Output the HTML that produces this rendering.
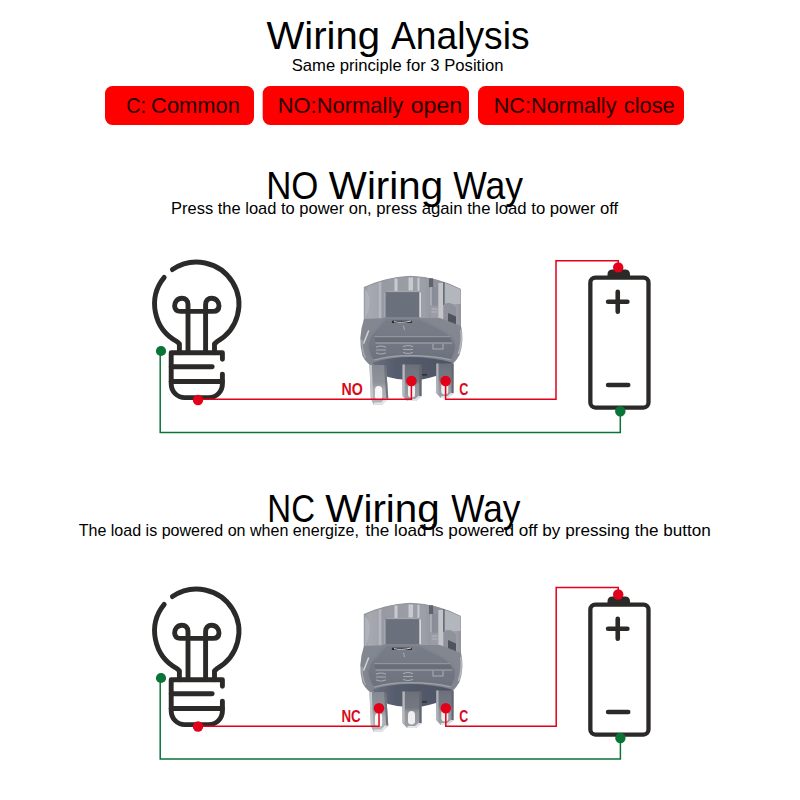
<!DOCTYPE html>
<html lang="en">
<head>
<meta charset="utf-8">
<title>Wiring Analysis</title>
<style>
html,body{margin:0;padding:0;background:#fff;}
body{width:800px;height:800px;overflow:hidden;position:relative;font-family:"Liberation Sans",sans-serif;}
svg{position:absolute;left:0;top:0;display:block;}
text{font-family:"Liberation Sans",sans-serif;}
.h1{font-size:38.5px;fill:#000;}
.sub{font-size:16.6px;fill:#000;}
.pill{font-size:22.2px;fill:#2a0000;}
.lab{font-size:15.6px;font-weight:bold;fill:#d80a1a;}
</style>
</head>
<body>
<svg width="800" height="800" viewBox="0 0 800 800">
<defs>
  <!-- light bulb icon -->
  <g id="bulb" fill="none" stroke="#2b2a29" stroke-width="4.9" stroke-linecap="round" stroke-linejoin="round">
    <path d="M172.4 269.6 A42.4 42.4 0 1 1 217.0 341.6 L214.5 343.8 V352.8"/>
    <path d="M164.2 277.4 A42.4 42.4 0 0 0 177.0 341.6 L179.4 343.8 V352.8"/>
    <path d="M188 352 V304.5 C188 300.5 185.3 298.2 182 298.2 C177.5 298.2 174.4 302 174.6 306 C174.8 309.5 177 311.4 180.5 311.4 H213.1 C216.6 311.4 218.8 309.5 219 306 C219.2 302 216.1 298.2 211.6 298.2 C208.3 298.2 205.6 300.5 205.6 304.5 V352"/>
    <path d="M222.4 359.3 V352.8 H171.2 V384 A13.6 13.6 0 0 0 184.8 397.6 H208.8 A13.6 13.6 0 0 0 222.4 384 V374.1"/>
    <path d="M171.2 366.7 H212.2"/>
    <path d="M171.2 381.5 H222.4"/>
  </g>
  <!-- battery icon -->
  <g id="battery">
    <path d="M607.5 277 V274.5 Q607.5 269.5 612.5 269.5 H625 Q630 269.5 630 274.5 V277 Z" fill="#2b2a29"/>
    <rect x="590.35" y="277.65" width="58.15" height="129.9" rx="5" ry="5" fill="#fff" stroke="#2b2a29" stroke-width="4.3"/>
    <path d="M608.1 301.75 H627.4 M617.75 291.8 V311.7" fill="none" stroke="#2b2a29" stroke-width="4.6" stroke-linecap="round"/>
    <path d="M608.1 385 H628.2" fill="none" stroke="#2b2a29" stroke-width="4.6" stroke-linecap="round"/>
  </g>

  <!-- push button switch (rear view) -->
  <linearGradient id="gCyl" x1="0" y1="0" x2="1" y2="0">
    <stop offset="0" stop-color="#969aa2"/>
    <stop offset="0.05" stop-color="#a6a9b0"/>
    <stop offset="0.15" stop-color="#a1a4ac"/>
    <stop offset="0.165" stop-color="#bdbfc5"/>
    <stop offset="0.19" stop-color="#979aa2"/>
    <stop offset="0.62" stop-color="#9c9fa7"/>
    <stop offset="0.75" stop-color="#8e9199"/>
    <stop offset="0.9" stop-color="#a4a7ae"/>
    <stop offset="1" stop-color="#92959d"/>
  </linearGradient>
  <linearGradient id="gDisk" x1="0" y1="0" x2="0" y2="1">
    <stop offset="0" stop-color="#787d88"/>
    <stop offset="0.5" stop-color="#747985"/>
    <stop offset="1" stop-color="#6c717d"/>
  </linearGradient>
  <linearGradient id="gLow" x1="0" y1="0" x2="1" y2="0">
    <stop offset="0" stop-color="#6a7080"/>
    <stop offset="0.3" stop-color="#555c6c"/>
    <stop offset="1" stop-color="#4e5464"/>
  </linearGradient>
  <linearGradient id="gPin" x1="0" y1="0" x2="0" y2="1">
    <stop offset="0" stop-color="#6c707a"/>
    <stop offset="0.45" stop-color="#747882"/>
    <stop offset="0.55" stop-color="#8f9299"/>
    <stop offset="1" stop-color="#9fa1a7"/>
  </linearGradient>
  <linearGradient id="gPin1" x1="0" y1="0" x2="0" y2="1">
    <stop offset="0" stop-color="#858992"/>
    <stop offset="0.45" stop-color="#8f9299"/>
    <stop offset="0.6" stop-color="#a9abb0"/>
    <stop offset="1" stop-color="#b4b6ba"/>
  </linearGradient>
  <filter id="soft" x="-5%" y="-5%" width="110%" height="110%"><feGaussianBlur stdDeviation="0.45"/></filter>
  <g id="switch" filter="url(#soft)">
    <!-- translucent cylinder -->
    <path d="M363.8 287.5 Q386 277.5 410 276.3 Q437 277 461 289.5 V330 H363.8 Z" fill="url(#gCyl)"/>
    <!-- top rim highlight -->
    <path d="M363.8 287.5 Q386 277.5 410 276.3 Q437 277 461 289.5" fill="none" stroke="#8c9098" stroke-width="1"/>
    <!-- light streaks -->
    <path d="M366 290 q5 6 3 18 q-2 8 -4 12 v-30z" fill="#b6b9bf" opacity=".7"/>
    
    <path d="M394.5 278.5 h3 v13 h-3z M408.5 277.5 h4.5 v13 h-4.5z M417.5 277.8 h2 v13 h-2z" fill="#cdcfd3" opacity=".9"/>
    
    <!-- right side structures -->
    <path d="M429 278.3 h4.2 v9 h-4.2z" fill="#5f636b"/>
    <path d="M431 287 h7.5 v18.5 h-7.5z" fill="#8a8e98"/>
    <path d="M431 287 v18.5" stroke="#c3c5ca" stroke-width="1"/>
    <path d="M438.3 283 h4.8 v43 h-4.8z" fill="#c3c5ca"/>
    <path d="M443 282 h1.6 v23 h-1.6z" fill="#6b6f77"/>
    <path d="M445 283 L460.5 289.5 V304 H445Z" fill="#b3b6bc"/>
    <path d="M444 304 q8 -3 12 4 v20 h-12z" fill="#8f929a"/>
    <path d="M448 313 l8 3.5 v10 l-8 -3z" fill="#4f535b"/>
    <path d="M431 306.5 h7 v12 h-7z" fill="#9a9da5"/>
    <path d="M431.5 309 h6 M431.5 312 h6" stroke="#b9bbc1" stroke-width=".8"/>
    <!-- inner dark block -->
    <path d="M385 294.5 Q385 291.2 388.5 291.2 H416 Q419.4 291.2 419.4 294.5 V317.5 H385Z" fill="#6b707b"/>
    <path d="M385 293 v24.5" stroke="#b0b3b9" stroke-width="1"/>
    <path d="M420.2 292.5 v25" stroke="#d7d8db" stroke-width="1.6"/>
    <path d="M386.5 291.6 h32" stroke="#a9acb3" stroke-width="1"/>
    <!-- translucent outer rim around disk -->
    <path d="M364 319 Q357.5 338 362.5 356 Q367 365 378 370 H444 Q454 365 459.5 355 Q464.5 340 461 326 L440 318 H386 Z" fill="#83878f"/>
    <path d="M368.5 331 L363.8 343" stroke="#cfd1d5" stroke-width="1.5" fill="none" stroke-linecap="round"/>
    <path d="M362 340 Q361.5 350 365.5 358" stroke="#a9acb3" stroke-width="1.3" fill="none"/>
    <path d="M460.8 330 Q462.5 342 458.5 354" stroke="#b4b7bd" stroke-width="1.6" fill="none"/>
    <!-- disk ridge -->
    <path d="M385 317.3 H419.5 L440.5 327.5 Q455 335 457.5 345 Q457.5 354 452 362.5 Q432 357 410 357 Q390 357 372.5 362.5 Q366 354 366 345 Q367.5 335 372.5 331 Z" fill="#7f848e"/>
    <!-- disk face -->
    <path d="M386.5 319.3 H419 L439 329.3 Q452.5 336 455 345 Q455 352 450.8 359.5 Q432 355 410 355 Q390 355 374 359.8 Q368.5 352 368.5 345 Q369.5 337 374.5 332.5 Z" fill="url(#gDisk)"/>
    <!-- slit -->
    <path d="M391.9 320.7 h20 v2.3 h-20z" fill="#2c2f36"/>
    <path d="M394 321.6 q7 1.8 17 -.6" stroke="#e1e2e5" stroke-width=".9" fill="none"/>
    <path d="M403.5 325.5 l1 4.5" stroke="#b4b7bd" stroke-width=".8"/>
    <!-- recessed bar -->
    <path d="M374.4 336.9 H450 L452 342.5 H375.5Z" fill="#686d78"/>
    <path d="M374.4 336.7 H450" stroke="#9ca0a8" stroke-width=".9"/>
    <path d="M375.5 343 H452" stroke="#a5a9b0" stroke-width="1"/>
    <!-- moulded labels -->
    <g fill="none" stroke="#a7abb2" stroke-width="1.1" stroke-linecap="round">
      <path d="M376.5 347 q4.5 -2 9 0 M376.5 350 h9 M376.5 353 q4.5 2 9 0"/>
      <path d="M403.5 346.5 q4.5 -2 9 0 M403.5 349.5 h9 M403.5 352.5 q4.5 2 9 0"/>
      <path d="M433 344 v5 h10 v-5"/>
    </g>
    <!-- lower dark part of body -->
    <path d="M372.5 362.5 Q390 357 410 357 Q432 357 452 362.5 Q447 371 436 376 Q412 384 388 377 Q377 372 372.5 362.5Z" fill="url(#gLow)"/>
    <path d="M374 360 Q390 355.6 410 355.6 Q432 355.6 450.8 359.8" stroke="#9da1a9" stroke-width="1.2" fill="none"/>
    <path d="M422 374 h5 v1.6 h-5z" fill="#2d3038"/>
    <!-- pins -->
    <path d="M369.5 365 H386 L388.3 398.5 L382 404.8 H373.5 L370.8 398.5 Z" fill="url(#gPin1)"/>
    <path d="M384 365 H386 L388.3 398.5 L386.4 400.4 Z" fill="#70747c"/>
    <path d="M369.5 365 h2.4 l1.2 33.5 h-2.3z" fill="#c4c6ca"/>
    <path d="M375 390 Q375 386 378.6 386 Q382.2 386 382.2 390 V396.5 Q382.2 399.8 378.6 399.8 Q375 399.8 375 396.5Z" fill="#f8f8f9"/>
    <path d="M402.5 364.5 H421.5 V396 L416 401 H407 L402.5 396Z" fill="url(#gPin)"/>
    <path d="M402.5 364.5 h2.3 v32.5 l-2.3 -1z" fill="#b6b8bd"/>
    <path d="M419.3 364.5 h2.2 v31.5 l-2.2 2z" fill="#62666e"/>
    <path d="M408 388 Q408 384 411.5 384 Q415 384 415 388 V394.5 Q415 397.5 411.5 397.5 Q408 397.5 408 394.5Z" fill="#eeeff0"/>
    <path d="M436.3 363.5 H453.5 V393 L448 398 H440.5 L436.3 393Z" fill="url(#gPin)"/>
    <path d="M436.3 363.5 h2.2 v31.5 l-2.2 -2z" fill="#b0b2b7"/>
    <path d="M451.5 363.5 h2 v29.5 l-2 2z" fill="#62666e"/>
    <path d="M441.3 386 Q441.3 382 444.8 382 Q448.3 382 448.3 386 V391.5 Q448.3 394.5 444.8 394.5 Q441.3 394.5 441.3 391.5Z" fill="#eeeff0"/>
    <!-- pin edge highlights -->
    <path d="M373.5 404.8 H382 L388.3 398.5 H385 L381 402.5 H374.5Z M407 401 H416 L421.5 396 H418.5 L415 399 H408Z M440.5 398 H448 L453.5 393 H451 L447.5 396 H441.5Z" fill="#e4e5e7"/>
  </g>
</defs>

<!-- header pills -->
<rect x="105" y="86" width="149" height="39" rx="7.5" fill="#fe0000"/>
<rect x="262.7" y="86" width="206.3" height="39" rx="7.5" fill="#fe0000"/>
<rect x="478" y="86" width="206" height="39" rx="7.5" fill="#fe0000"/>





<!-- text -->
<text class="h1" x="266.4" y="49" textLength="113.68" lengthAdjust="spacingAndGlyphs">Wiring</text>
<text class="h1" x="390.96" y="49" textLength="138.59" lengthAdjust="spacingAndGlyphs">Analysis</text>
<text class="sub" x="291.73" y="71" textLength="211.68" lengthAdjust="spacingAndGlyphs">Same principle for 3 Position</text>
<text class="pill" x="126.24" y="112.5" textLength="19.81" lengthAdjust="spacingAndGlyphs">C:</text>
<text class="pill" x="151.11" y="112.5" textLength="88.87" lengthAdjust="spacingAndGlyphs">Common</text>
<text class="pill" x="277.72" y="112.5" textLength="125.51" lengthAdjust="spacingAndGlyphs">NO:Normally</text>
<text class="pill" x="410.74" y="112.5" textLength="51.51" lengthAdjust="spacingAndGlyphs">open</text>
<text class="pill" x="493.73" y="112.5" textLength="122.78" lengthAdjust="spacingAndGlyphs">NC:Normally</text>
<text class="pill" x="623.74" y="112.5" textLength="51.05" lengthAdjust="spacingAndGlyphs">close</text>
<text class="h1" x="266.13" y="198.8" textLength="52.23" lengthAdjust="spacingAndGlyphs">NO</text>
<text class="h1" x="328.86" y="198.8" textLength="114.23" lengthAdjust="spacingAndGlyphs">Wiring</text>
<text class="h1" x="453.35" y="198.8" textLength="69.78" lengthAdjust="spacingAndGlyphs">Way</text>
<text class="sub" x="171.09" y="214.1" textLength="200.62" lengthAdjust="spacingAndGlyphs">Press the load to power on,</text>
<text class="sub" x="376.3" y="214.1" textLength="241.89" lengthAdjust="spacingAndGlyphs">press again the load to power off</text>
<text class="h1" x="267.34" y="521.5" textLength="47.65" lengthAdjust="spacingAndGlyphs">NC</text>
<text class="h1" x="325.29" y="521.5" textLength="114.46" lengthAdjust="spacingAndGlyphs">Wiring</text>
<text class="h1" x="451.27" y="521.5" textLength="69.09" lengthAdjust="spacingAndGlyphs">Way</text>
<text class="sub" x="78.66" y="536.2" textLength="280.23" lengthAdjust="spacingAndGlyphs">The load is powered on when energize,</text>
<text class="sub" x="365.55" y="536.2" textLength="345.27" lengthAdjust="spacingAndGlyphs">the load is powered off by pressing the button</text>
<!-- ============ diagram 1 (NO) ============ -->
<g id="d1">
  <use href="#bulb"/>
  <use href="#battery"/>
  <use href="#switch"/>
  <path d="M198 399.3 H411.4 V381" fill="none" stroke="#e2001a" stroke-width="1.5"/>
  <path d="M445.6 381 V399.3 H556 V260.8 H618.3 V267" fill="none" stroke="#e2001a" stroke-width="1.5"/>
  <path d="M160.2 351 V432.6 H620.3 V411" fill="none" stroke="#0a7336" stroke-width="1.5"/>
  <circle cx="198" cy="400" r="5.2" fill="#e2001a"/>
  <circle cx="411.4" cy="381" r="5.3" fill="#e2001a"/>
  <circle cx="445.6" cy="381" r="5.3" fill="#e2001a"/>
  <circle cx="618.2" cy="267.4" r="5.2" fill="#e2001a"/>
  <circle cx="161" cy="351" r="5.1" fill="#0a7336"/>
  <circle cx="620.3" cy="411.2" r="5.2" fill="#0a7336"/>
<text class="lab" x="341.49" y="395" textLength="21.32" lengthAdjust="spacingAndGlyphs">NO</text>
<text class="lab" x="459.27" y="395" textLength="9.1" lengthAdjust="spacingAndGlyphs">C</text>
</g>

<!-- ============ diagram 2 (NC) ============ -->
<g id="d2">
  <g transform="translate(0 327)">
    <use href="#bulb"/>
    <use href="#battery"/>
    <use href="#switch"/>
  </g>
  <path d="M198 726.3 H379 V708.3" fill="none" stroke="#e2001a" stroke-width="1.5"/>
  <path d="M445.8 708.3 V726.3 H556.2 V587.6 H618.3 V594" fill="none" stroke="#e2001a" stroke-width="1.5"/>
  <path d="M160.2 678 V759 H620.4 V738" fill="none" stroke="#0a7336" stroke-width="1.5"/>
  <circle cx="198" cy="726.5" r="5.2" fill="#e2001a"/>
  <circle cx="379" cy="708.3" r="5.3" fill="#e2001a"/>
  <circle cx="445.8" cy="708.3" r="5.3" fill="#e2001a"/>
  <circle cx="618.2" cy="594.5" r="5.2" fill="#e2001a"/>
  <circle cx="161" cy="678" r="5.1" fill="#0a7336"/>
  <circle cx="620.4" cy="738" r="5.2" fill="#0a7336"/>
<text class="lab" x="341.47" y="722" textLength="19.27" lengthAdjust="spacingAndGlyphs">NC</text>
<text class="lab" x="459.29" y="722" textLength="8.97" lengthAdjust="spacingAndGlyphs">C</text>
</g>
</svg>
</body>
</html>
